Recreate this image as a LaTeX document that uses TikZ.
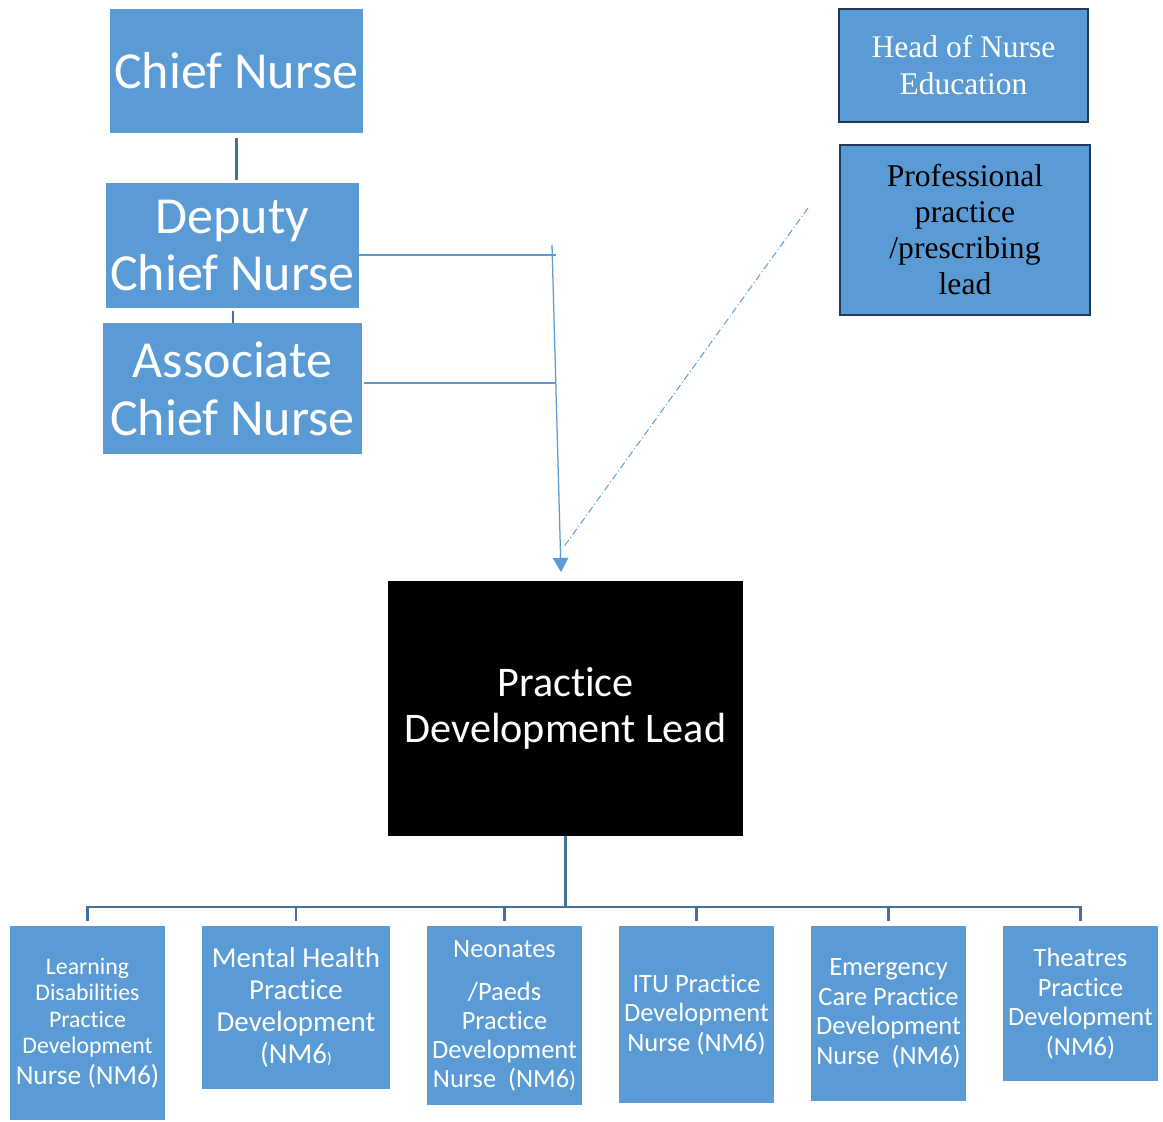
\documentclass[tikz,border=0pt]{standalone}
\usepackage{fontspec}
\setmainfont{Liberation Serif}
\newfontfamily\calibri[Ligatures={NoCommon,NoContextual}, RawFeature={-liga;-clig}]{Carlito}
\usetikzlibrary{arrows.meta}
\definecolor{boxblue}{HTML}{5B9BD5}
\definecolor{linkblue}{HTML}{41719C}
\definecolor{edgenavy}{HTML}{22395A}
\newcommand\sz[2]{\fontsize{#1}{#2}\selectfont}
\tikzset{
  box/.style={fill=boxblue, text=white, align=center, inner sep=0pt, font=\calibri},
  serifbox/.style={box, draw=edgenavy, line width=1.5pt, font=\rmfamily},
  tree/.style={draw=linkblue, line width=1.6pt},
  link/.style={draw=boxblue, line width=0.9pt},
  >={Triangle[width=11pt, length=10pt]}
}

\begin{document}
\begin{tikzpicture}[x=0.025cm, y=-0.025cm]
  \useasboundingbox (0,0) rectangle (1163,1122);
  % senior nurses
  \node[box, minimum width=6.325cm, minimum height=3.1cm, font=\calibri\sz{37}{41}]
    (cn) at (236.5,71) {Chief Nurse};
  \node[box, minimum width=6.325cm, minimum height=3.125cm, font=\calibri\sz{37}{41}]
    (dcn) at (232.5,245.5) {Deputy\\Chief Nurse};
  \node[box, minimum width=6.475cm, minimum height=3.275cm, font=\calibri\sz{37}{41}]
    (acn) at (232.5,388.5) {Associate\\Chief Nurse};
  % education leads
  \node[serifbox, minimum width=6.225cm, minimum height=2.825cm, font=\rmfamily\sz{22.4}{26.3}]
    (hne) at (963.5,65.5) {Head of Nurse\\Education};
  \node[serifbox, text=black, minimum width=6.25cm, minimum height=4.25cm, font=\rmfamily\sz{22.5}{25.6}]
    (ppl) at (965,230) {Professional\\practice\\/prescribing\\lead};
  % lead
  \node[box, fill=black, minimum width=8.875cm, minimum height=6.375cm, font=\calibri\sz{30}{32.7}]
    (pdl) at (565.5,708.5) {Practice\\Development Lead};
  % practice development nurses
  \node[box, minimum width=3.875cm, minimum height=4.85cm, font=\calibri\sz{16.9}{18.8}]
    (ld) at (87.5,1023) {Learning\\Disabilities\\Practice\\Development\\[3pt]{\sz{19.5}{21}Nurse (NM6)}};
  \node[box, minimum width=4.7cm, minimum height=4.075cm, font=\calibri\sz{20.6}{22.8}]
    (mh) at (296,1007.5) {Mental Health\\Practice\\Development\\(NM6{\sz{11}{11})}};
  \node[box, minimum width=3.875cm, minimum height=4.475cm, font=\calibri\sz{18.8}{20.6}]
    (neo) at (504.5,1015.5) {Neonates\\[10pt]/Paeds\\Practice\\Development\\Nurse\ \ (NM6{\sz{16}{16})}};
  \node[box, minimum width=3.875cm, minimum height=4.425cm, font=\calibri\sz{18.8}{21}]
    (itu) at (696.5,1014.5) {ITU Practice\\Development\\Nurse (NM6)};
  \node[box, minimum width=3.875cm, minimum height=4.375cm, font=\calibri\sz{18.8}{21}]
    (ec) at (888.5,1013.5) {Emergency\\Care Practice\\Development\\Nurse\ \ (NM6)};
  \node[box, minimum width=3.875cm, minimum height=3.875cm, font=\calibri\sz{18.8}{21}]
    (th) at (1080.5,1003.5) {Theatres\\Practice\\Development\\(NM6)};
  % reporting lines
  \coordinate (top) at (552,245);
  \coordinate (tip) at (561,572);
  \coordinate (j1) at (556,255);
  \coordinate (j2) at (556,383);
  \coordinate (dot1) at (808,208);
  \coordinate (dot2) at (563,548);
  \coordinate (bus) at (566,907);
  \draw[tree, line width=1.6pt, shorten <=3pt, shorten >=2pt] (cn.south) -- (cn.south |- dcn.north);
  \draw[tree, line width=1.6pt, shorten <=2pt] (dcn.south -| 233,0) -- (233,323);
  \draw[link] (dcn.east |- j1) -- (j1);
  \draw[link] ([xshift=1.5pt]acn.east |- j2) -- (j2);
  \draw[link, ->] (top) -- (tip);
  \draw[link, line width=0.7pt, dash pattern=on 5pt off 2pt on 0.7pt off 2pt] (dot1) -- (dot2);
  % tree
  \draw[tree] (pdl.south) -- (pdl.south |- bus);
  \foreach \n in {ld,mh,neo,itu,ec,th}
    \draw[tree, shorten >=3pt] (pdl.south |- bus) -| (\n.north);
\end{tikzpicture}
\end{document}
